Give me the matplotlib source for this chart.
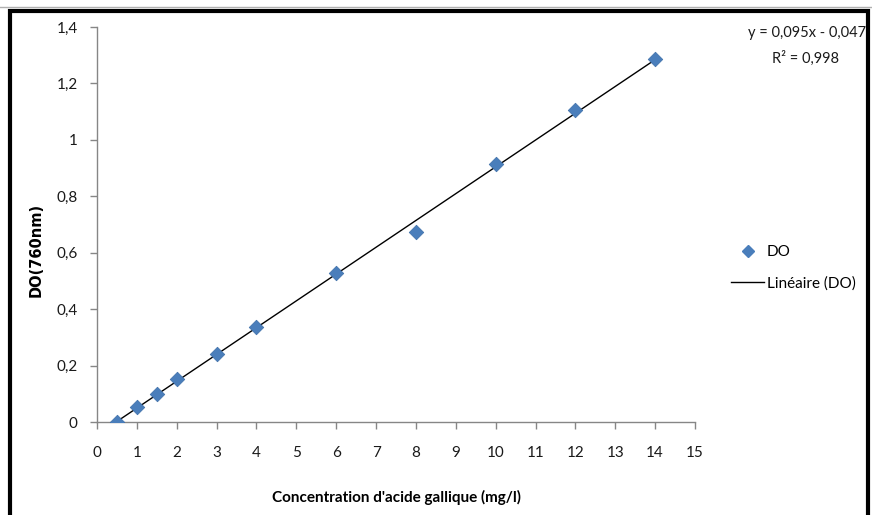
import numpy as np
import matplotlib.pyplot as plt
from matplotlib.lines import Line2D

# Données : concentration (mg/l) et densité optique à 760 nm
conc = [0.5, 1, 1.5, 2, 3, 4, 6, 8, 10, 12, 14]
do = [0.0, 0.052, 0.099, 0.152, 0.241, 0.336, 0.528, 0.673, 0.914, 1.105, 1.288]
x_ticks = list(range(0, 16))
y_ticks = [0, 0.2, 0.4, 0.6, 0.8, 1, 1.2, 1.4]
y_labels = ["0", "0,2", "0,4", "0,6", "0,8", "1", "1,2", "1,4"]

plt.rcParams['font.family'] = ['Lato', 'DejaVu Sans']

fig = plt.figure(figsize=(8.72, 5.15), dpi=100)
ax = fig.add_axes([97/872, 1-422/515, (695-97)/872, (422-27)/515])

# droite de régression
pente, ordo = np.polyfit(conc, do, 1)
xs = np.array([conc[0], conc[-1]])
ax.plot(xs, pente*xs + ordo, color='black', lw=1.0, zorder=2)
ax.scatter(conc, do, marker='D', s=55, color='#4a7ebb', edgecolors='#3d6ea8',
           linewidths=0.5, zorder=3)

ax.set_xlim(0, 15)
ax.set_ylim(0, 1.4)
ax.set_xticks(x_ticks)
ax.set_yticks(y_ticks)
ax.set_yticklabels(y_labels)
for s in ['top', 'right']:
    ax.spines[s].set_visible(False)
for s in ['left', 'bottom']:
    ax.spines[s].set_color('#868686')
    ax.spines[s].set_linewidth(1.0)
ax.tick_params(axis='both', colors='#868686', length=5, width=1.0,
               labelcolor='#1a1a1a', labelsize=11)
ax.tick_params(axis='x', pad=12)
ax.tick_params(axis='y', pad=9)

ax.set_xlabel("Concentration d'acide gallique (mg/l)", fontsize=11, fontweight='bold')
ax.xaxis.set_label_coords(0.5, -(497-422)/395, transform=ax.transAxes)
ax.xaxis.label.set_va('center')
ax.set_ylabel("DO(760nm)", fontsize=10.5, fontweight='bold', family='DejaVu Sans')
ax.yaxis.set_label_coords(-(97-36)/598, 0.435)
ax.yaxis.label.set_va('center')

# équation
fig.text(807/872, 1-33/515, "y = 0,095x - 0,047", ha='center', va='center',
         fontsize=10.5, color='#1a1a1a')
fig.text(805/872, 1-58/515, "R² = 0,998", ha='center', va='center',
         fontsize=10.5, color='#1a1a1a')

# légende
leg_handles = [Line2D([], [], marker='D', color='#4a7ebb', ls='none', markersize=6),
               Line2D([], [], color='black', lw=1.0)]
fig.legend(leg_handles, ["DO", "Linéaire (DO)"], loc='center left',
           bbox_to_anchor=(717/872, 1-268/515), frameon=False, fontsize=11,
           handlelength=2.2, handletextpad=0.15, labelspacing=1.1)

# cadre noir (gauche, haut, droite)
xl, xr, yt = 9.5/872, 867.5/872, 1-10.5/515
fig.add_artist(Line2D([xl, xl, xr, xr], [0, yt, yt, 0], transform=fig.transFigure,
                      color='black', lw=3, solid_joinstyle='miter'))
fig.add_artist(Line2D([0, 1], [1-7/515, 1-7/515], transform=fig.transFigure,
                      color='#b0b0b0', lw=1))
fig.text(400/872, 1+10/515, "g", ha='center', va='center', fontsize=16)

fig.savefig("out.png", dpi=100)
